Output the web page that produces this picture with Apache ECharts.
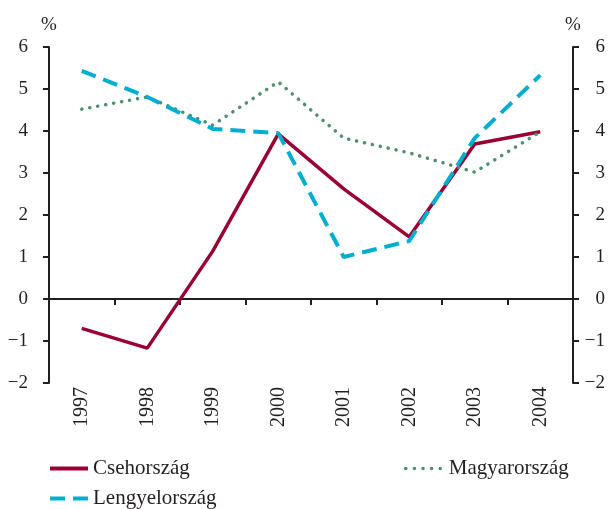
<!DOCTYPE html>
<html>
<head>
<meta charset="utf-8">
<script src="https://cdn.jsdelivr.net/npm/echarts@6/dist/echarts.min.js"></script>
<style>
  html, body { margin: 0; padding: 0; background: #fff; }
  #main { width: 608px; height: 509px; }
</style>
</head>
<body>
<div id="main"></div>
<script>
var years = ['1997', '1998', '1999', '2000', '2001', '2002', '2003', '2004'];
var cseh = [-0.7, -1.17, 1.14, 3.93, 2.62, 1.48, 3.69, 3.98];
var lengyel = [5.43, 4.81, 4.05, 3.95, 1.0, 1.38, 3.83, 5.33];
var magyar = [4.52, 4.81, 4.14, 5.17, 3.83, 3.48, 3.02, 3.98];

var font = 'Liberation Serif';
var axisCol = '#231f20';
var textCol = '#231f20';

function minus(v) { return String(v).replace('-', '\u2212'); }

var myChart = echarts.init(document.getElementById('main'));

var yBase = {
    type: 'value',
    min: -2,
    max: 6,
    interval: 1,
    name: '%',
    nameGap: 12,
    splitLine: { show: false },
    axisLine: { show: true, onZero: false, lineStyle: { color: axisCol, width: 2 } },
    axisTick: { show: true, length: 6, lineStyle: { color: axisCol, width: 2 } }
};

// egy legenda-elem, kézzel elhelyezve
function legendAt(left, top, name, line, w, textPad) {
    return {
        left: left,
        top: top,
        itemWidth: w,
        itemHeight: 14,
        itemGap: 0,
        itemStyle: { opacity: 0 },
        lineStyle: line,
        textStyle: { color: textCol, fontFamily: font, fontSize: 21, padding: [0, 0, 0, textPad] },
        data: [name]
    };
}

var option = {
    animation: false,
    grid: { left: 49, right: 35, top: 47, bottom: 126 },
    legend: [
        legendAt(43, 453, 'Csehország', { width: 4 }, 38, 0),
        legendAt(43, 483, 'Lengyelország', { width: 4, type: [15, 8] }, 38, 0),
        legendAt(399, 453, 'Magyarország', { width: 3.5, type: [0.1, 8.5], cap: 'round' }, 42, -4)
    ],
    xAxis: [
        {
            type: 'category',
            data: years,
            position: 'bottom',
            axisLine: { show: false },
            axisTick: { show: false },
            axisLabel: { color: textCol, fontFamily: font, fontSize: 20, rotate: 90, margin: 4 }
        },
        {
            type: 'category',
            data: years,
            position: 'bottom',
            axisLine: { show: true, onZero: true, onZeroAxisIndex: 0, lineStyle: { color: axisCol, width: 2 } },
            axisTick: { show: true, length: 6, lineStyle: { color: axisCol, width: 2 } },
            axisLabel: { show: false }
        }
    ],
    yAxis: [
        Object.assign({}, yBase, {
            position: 'left',
            nameTextStyle: { color: textCol, fontFamily: font, fontSize: 19, align: 'center' },
            axisLabel: { color: textCol, fontFamily: font, fontSize: 19, margin: 21, formatter: minus }
        }),
        Object.assign({}, yBase, {
            position: 'right',
            nameTextStyle: { color: textCol, fontFamily: font, fontSize: 19, align: 'center' },
            axisLabel: { color: textCol, fontFamily: font, fontSize: 19, margin: 32, align: 'right', formatter: minus }
        })
    ],
    series: [
        {
            name: 'Csehország',
            type: 'line',
            data: cseh,
            symbol: 'none',
            color: '#990033',
            lineStyle: { color: '#990033', width: 3.5 }
        },
        {
            name: 'Magyarország',
            type: 'line',
            data: magyar,
            symbol: 'none',
            color: '#4d8f6f',
            lineStyle: { color: '#4d8f6f', width: 3.5, type: [0.1, 8], cap: 'round' }
        },
        {
            name: 'Lengyelország',
            type: 'line',
            data: lengyel,
            symbol: 'none',
            color: '#00aecf',
            lineStyle: { color: '#00aecf', width: 4, type: [15, 8] }
        }
    ]
};

myChart.setOption(option);
</script>
</body>
</html>
